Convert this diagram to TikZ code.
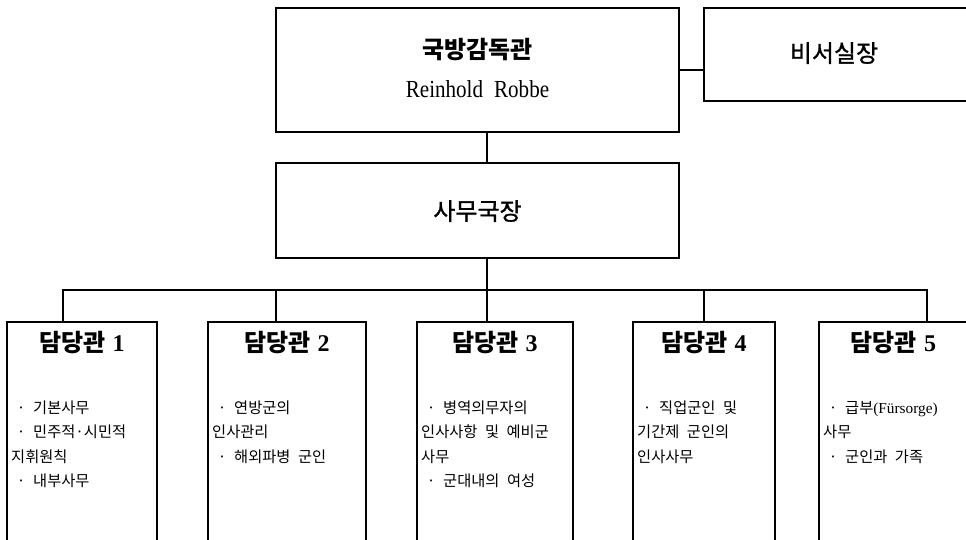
\documentclass[tikz,border=0pt]{standalone}
\usepackage{fontspec}
\setmainfont{Liberation Serif}
\newfontfamily\kr{Noto Sans CJK KR}
\newfontfamily\krmed[FakeBold=1.2]{Noto Sans CJK KR}
\newfontfamily\krbody[WordSpace=2.2]{Noto Sans CJK KR}
\newfontfamily\robfont[FakeStretch=0.86]{Liberation Serif}
\newcommand\bul{\makebox[20pt][c]{·}\hspace{2pt}}
\tikzset{
  orgbox/.style={draw=black, line width=1.5pt, inner sep=0pt, outer sep=0pt},
  link/.style={draw=black, line width=1.5pt},
  headtxt/.style={inner sep=0pt, anchor=base, font=\fontsize{24}{28}\selectfont},
  bodytxt/.style={inner sep=0pt, anchor=north west, align=left, font=\krbody\fontsize{15.3}{24.5}\selectfont}
}
\newcommand\ttl[1]{{\kr\bfseries 담당관}\hspace{0.3em}{\bfseries #1}}
\begin{document}
\begin{tikzpicture}[x=1pt,y=-1pt]
\useasboundingbox (0,0) rectangle (966,540);
\clip (0,0) rectangle (966,540);
% boxes
\node[orgbox, minimum width=403pt, minimum height=124pt] (top) at (477.5,70) {};
\node[orgbox, minimum width=264pt, minimum height=93pt] (sec) at (836,54.5) {};
\node[orgbox, minimum width=403pt, minimum height=95pt] (mid) at (477.5,210.5) {};
\node[orgbox, minimum width=150pt, minimum height=236pt] (b1) at (82,440) {};
\node[orgbox, minimum width=158pt, minimum height=236pt] (b2) at (287,440) {};
\node[orgbox, minimum width=156pt, minimum height=236pt] (b3) at (495,440) {};
\node[orgbox, minimum width=142pt, minimum height=236pt] (b4) at (704,440) {};
\node[orgbox, minimum width=149pt, minimum height=236pt] (b5) at (893.5,440) {};
% texts
\node[headtxt] (ttop) at (477.5,59) {\kr\bfseries 국방감독관};
\node[headtxt, font=\robfont\fontsize{24.5}{28}\selectfont] (tname) at (477.5,98) {Reinhold\hspace{0.45em}Robbe};
\node[headtxt] (tsec) at (834,62) {\krmed 비서실장};
\node[headtxt] (tmid) at (477.5,220) {\krmed 사무국장};
\node[headtxt] (t1) at ([yshift=-29pt]b1.north) {\ttl{1}};
\node[headtxt] (t2) at ([yshift=-29pt]b2.north) {\ttl{2}};
\node[headtxt] (t3) at ([yshift=-29pt]b3.north) {\ttl{3}};
\node[headtxt] (t4) at ([yshift=-29pt]b4.north) {\ttl{4}};
\node[headtxt] (t5) at ([yshift=-29pt]b5.north) {\ttl{5}};
\node[bodytxt] (x1) at ([xshift=4pt,yshift=-74pt]b1.north west)
  {\strut\bul 기본사무\\\strut\bul 민주적·시민적\\\strut 지휘원칙\\\strut\bul 내부사무};
\node[bodytxt] (x2) at ([xshift=4pt,yshift=-74pt]b2.north west)
  {\strut\bul 연방군의\\\strut 인사관리\\\strut\bul 해외파병 군인};
\node[bodytxt] (x3) at ([xshift=4pt,yshift=-74pt]b3.north west)
  {\strut\bul 병역의무자의\\\strut 인사사항 및 예비군\\\strut 사무\\\strut\bul 군대내의 여성};
\node[bodytxt] (x4) at ([xshift=4pt,yshift=-74pt]b4.north west)
  {\strut\bul 직업군인 및\\\strut 기간제 군인의\\\strut 인사사무};
\node[bodytxt] (x5) at ([xshift=4pt,yshift=-74pt]b5.north west)
  {\strut\bul 급부{\rmfamily(Fürsorge)}\\\strut 사무\\\strut\bul 군인과 가족};
% connector points
\coordinate (spine) at (487,290);
\coordinate (busL) at (63,290);
\coordinate (busR) at (927,290);
\coordinate (d2) at (276,290);
\coordinate (d4) at (704,290);
% connectors
\draw[link] (top.east) -- (top.east -| sec.west);
\draw[link] (top.south -| spine) -- (mid.north -| spine);
\draw[link] (mid.south -| spine) -- (spine);
\draw[link] (busL |- b1.north) -- (busL) -- (busR) -- (busR |- b5.north);
\draw[link] (spine) -- (spine |- b3.north);
\draw[link] (d2) -- (d2 |- b2.north);
\draw[link] (d4) -- (d4 |- b4.north);
\end{tikzpicture}
\end{document}
